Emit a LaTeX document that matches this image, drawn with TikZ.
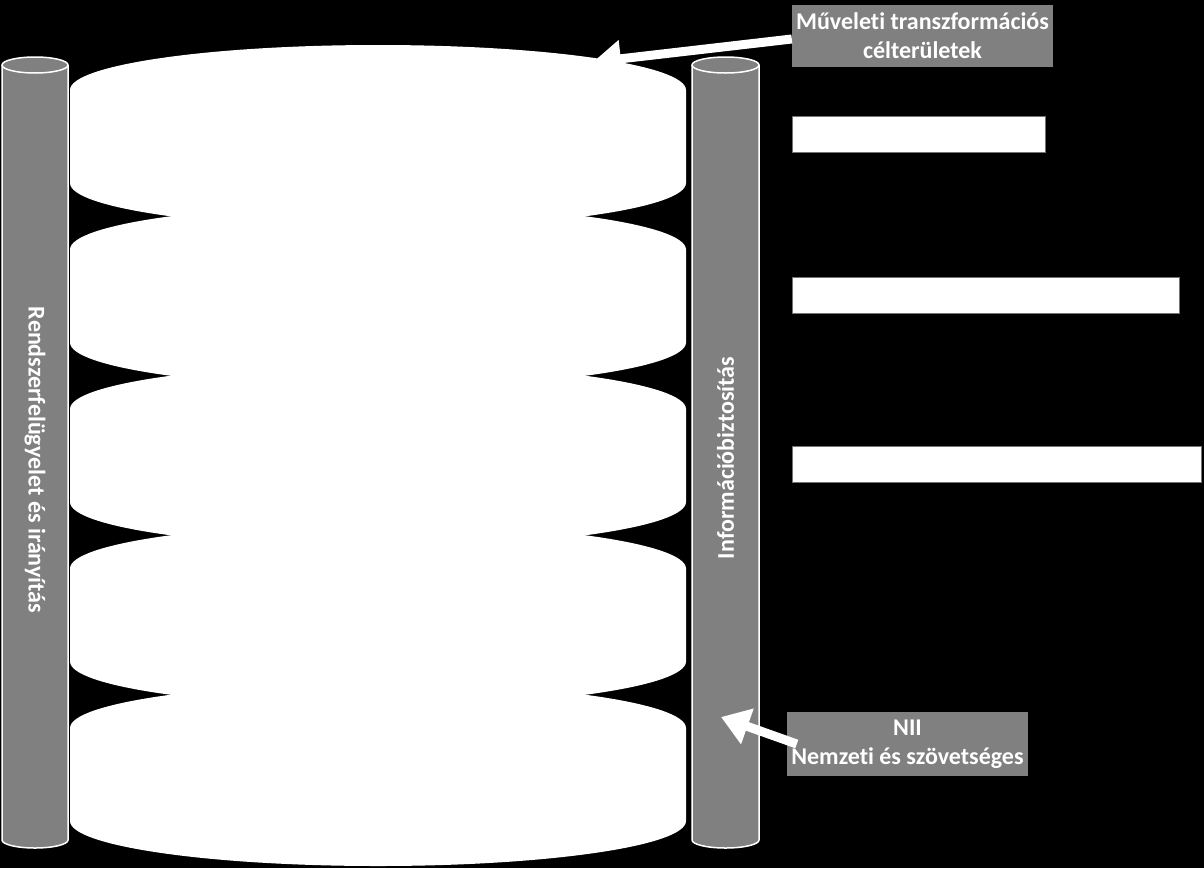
\documentclass[tikz,border=0pt]{standalone}
\usepackage{fontspec}
\setmainfont{Carlito}[Ligatures=NoCommon]
\usetikzlibrary{arrows.meta}
\tikzset{
    labelbox/.style={fill=black!50, text=white, font=\bfseries\fontsize{24}{29}\selectfont, align=center, inner sep=0pt},
    whitebar/.style={draw=black!55, line width=1pt, fill=white, anchor=north west, inner sep=0pt, minimum height=36pt},
    pillar/.style={fill=black!50, draw=white, line width=1.5pt},
    pillartext/.style={text=white, font=\bfseries\fontsize{24}{29}\selectfont},
    bigarrow/.style={draw=white, line width=9pt, -{Triangle[length=28pt,width=36pt]}}
}
\begin{document}
\begin{tikzpicture}[x=1pt, y=-1pt]
    \useasboundingbox (0,0) rectangle (1204,868);
    \fill[black] (0,0) rectangle (1204,868);
    % stacked layers
    \foreach \t in {90,249.5,409,568.5,728}
        \fill[white] (70,\t) arc[start angle=180, end angle=360, x radius=308, y radius=45]
            -- (686,\t+93) arc[start angle=0, end angle=180, x radius=308, y radius=45] -- cycle;
    % pillars
    \filldraw[pillar] (2,65) -- (2,840) arc[start angle=180, end angle=0, x radius=33, y radius=8] -- (68,65);
    \draw[pillar] (35,65) ellipse[x radius=33, y radius=8];
    \filldraw[pillar] (692,65) -- (692,840) arc[start angle=180, end angle=0, x radius=33.5, y radius=8] -- (759,65);
    \draw[pillar] (725.5,65) ellipse[x radius=33.5, y radius=8];
    \node[pillartext, rotate=-90] (rendszer) at (35,460) {Rendszerfelügyelet és irányítás};
    \node[pillartext, rotate=90] (infobiz) at (725.5,458) {Információbiztosítás};
    % labels
    \node[labelbox, minimum width=261pt, minimum height=62pt] (muveleti) at (922.5,36) {Műveleti transzformációs\\célterületek};
    \node[whitebar, minimum width=253pt] (bar1) at (792,116) {};
    \node[whitebar, minimum width=387pt] (bar2) at (792,277) {};
    \node[whitebar, minimum width=409pt] (bar3) at (792,446) {};
    \node[labelbox, minimum width=241pt, minimum height=64pt] (nii) at (907.5,744) {NII\\Nemzeti és szövetséges};
    \coordinate (celpont) at (593,62);
    \coordinate (niipont) at (721,717);
    \draw[bigarrow] ([yshift=-3pt]muveleti.west) -- (celpont);
    \draw[bigarrow] ([xshift=10pt]nii.west) -- (niipont);
\end{tikzpicture}
\end{document}
